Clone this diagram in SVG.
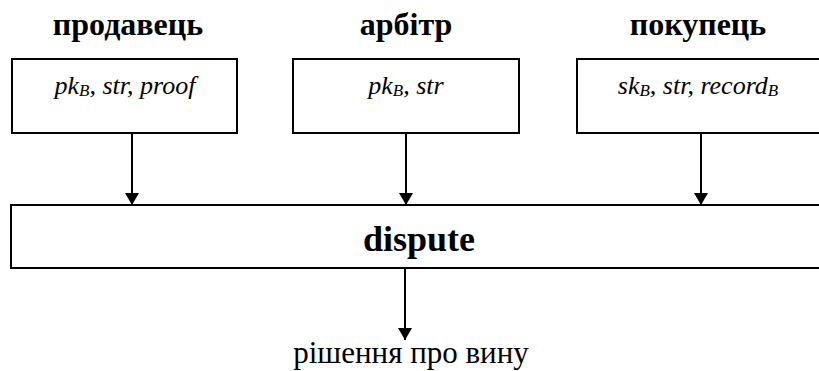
<svg xmlns="http://www.w3.org/2000/svg" width="819" height="371" viewBox="0 0 819 371" font-family="Liberation Serif">
  <defs>
    <marker id="head" viewBox="0 0 12 14" refX="12" refY="7" markerWidth="12" markerHeight="14" markerUnits="userSpaceOnUse" orient="auto">
      <path d="M0,0 L12,7 L0,14 Z" fill="#000"/>
    </marker>
  </defs>

  <!-- parties and their inputs -->
  <g id="seller">
    <text x="128" y="35" font-family="Times New Roman" font-weight="bold" font-size="32" text-anchor="middle">продавець</text>
    <rect x="12" y="59" width="225" height="74" fill="#fff" stroke="#000" stroke-width="2"/>
    <text x="125" y="94" font-family="Times New Roman" font-style="italic" font-size="26" text-anchor="middle">pk<tspan font-size="17" dy="2">B</tspan><tspan dy="-2">, str, proof</tspan></text>
  </g>

  <g id="arbiter">
    <text x="406" y="35" font-family="Times New Roman" font-weight="bold" font-size="32" text-anchor="middle">арбітр</text>
    <rect x="293" y="59" width="226" height="74" fill="#fff" stroke="#000" stroke-width="2"/>
    <text x="406" y="94" font-family="Times New Roman" font-style="italic" font-size="26" text-anchor="middle">pk<tspan font-size="17" dy="2">B</tspan><tspan dy="-2">, str</tspan></text>
  </g>

  <g id="buyer">
    <text x="698" y="35" font-family="Times New Roman" font-weight="bold" font-size="32" text-anchor="middle">покупець</text>
    <rect x="577" y="59" width="250" height="74" fill="#fff" stroke="#000" stroke-width="2"/>
    <text x="698" y="94" font-family="Times New Roman" font-style="italic" font-size="26" text-anchor="middle">sk<tspan font-size="17" dy="2">B</tspan><tspan dy="-2">, str, record</tspan><tspan font-size="17" dy="2">B</tspan></text>
  </g>

  <!-- dispute procedure -->
  <g id="dispute">
    <rect x="11" y="205" width="816" height="63" fill="#fff" stroke="#000" stroke-width="2"/>
    <text x="419" y="251" font-family="Times New Roman" font-weight="bold" font-size="36" text-anchor="middle">dispute</text>
  </g>

  <!-- result -->
  <g id="verdict">
    <text x="411" y="363" font-family="Times New Roman" font-size="31" text-anchor="middle">рішення про вину</text>
  </g>

  <g id="connectors" stroke="#000" stroke-width="2" fill="none">
    <line x1="132" y1="133" x2="132" y2="205" marker-end="url(#head)"/>
    <line x1="406" y1="133" x2="406" y2="205" marker-end="url(#head)"/>
    <line x1="701" y1="133" x2="701" y2="205" marker-end="url(#head)"/>
    <line x1="405" y1="268" x2="405" y2="340" marker-end="url(#head)"/>
  </g>
</svg>
